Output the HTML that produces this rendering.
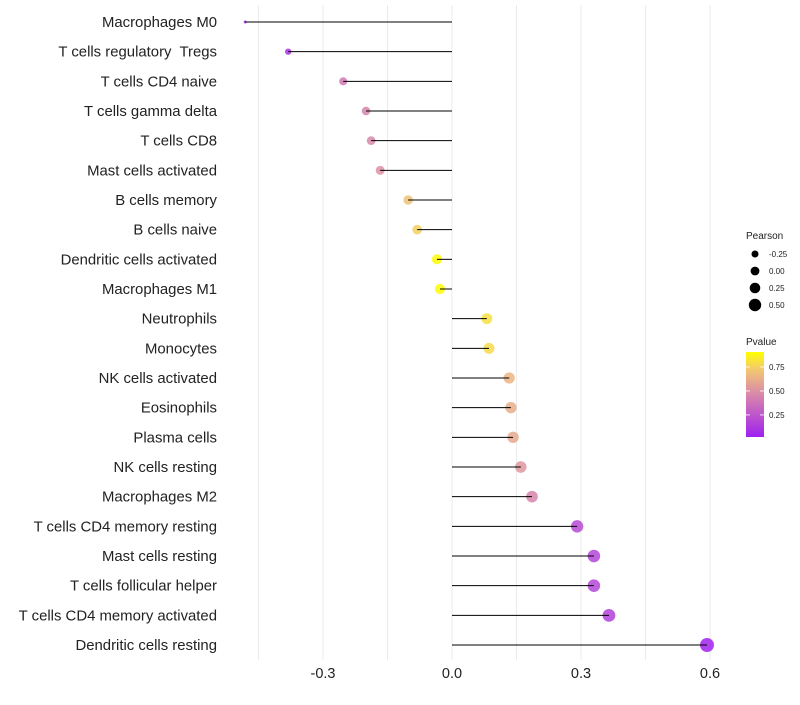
<!DOCTYPE html>
<html><head><meta charset="utf-8"><style>
body{margin:0;background:#fff;font-family:"Liberation Sans",sans-serif;}
text{white-space:pre;}
</style></head><body>
<svg id="chart" width="800" height="700" xmlns="http://www.w3.org/2000/svg"></svg>
<script>
const categories=["Macrophages M0","T cells regulatory  Tregs","T cells CD4 naive","T cells gamma delta","T cells CD8","Mast cells activated","B cells memory","B cells naive","Dendritic cells activated","Macrophages M1","Neutrophils","Monocytes","NK cells activated","Eosinophils","Plasma cells","NK cells resting","Macrophages M2","T cells CD4 memory resting","Mast cells resting","T cells follicular helper","T cells CD4 memory activated","Dendritic cells resting"];
const pearson=[-0.481,-0.381,-0.253,-0.200,-0.188,-0.167,-0.102,-0.081,-0.035,-0.028,0.081,0.086,0.133,0.137,0.142,0.160,0.186,0.291,0.330,0.330,0.365,0.593];
const pvalue=[0.05,0.10,0.40,0.45,0.46,0.50,0.70,0.75,0.90,0.90,0.80,0.78,0.65,0.62,0.60,0.52,0.45,0.20,0.18,0.18,0.15,0.03];
const xTicks=[-0.3,0,0.3,0.6];
const xTickLabels=["-0.3","0.0","0.3","0.6"];
const sizeLegend=[-0.25,0,0.25,0.5];
const colorLegend=[0.25,0.5,0.75];

const NS="http://www.w3.org/2000/svg";
const svg=document.getElementById('chart');
function mk(t,a,p){const e=document.createElementNS(NS,t);for(const k in a)e.setAttribute(k,a[k]);(p||svg).appendChild(e);return e;}
const x=v=>452+v*430;
const y=i=>22+i*(623/(categories.length-1));
const pmin=0.02,pmax=0.906;
const stops=[[0,[160,32,240]],[0.5,[216,136,170]],[0.78,[242,196,120]],[1,[255,255,0]]];
function col(p){let t=Math.max(0,Math.min(1,(p-pmin)/(pmax-pmin)));for(let i=1;i<stops.length;i++){if(t<=stops[i][0]){const a=stops[i-1],b=stops[i];const f=(t-a[0])/(b[0]-a[0]);const c=a[1].map((v,j)=>Math.round(v+(b[1][j]-v)*f));return `rgb(${c})`;}}return 'rgb(255,255,0)';}
const vmin=Math.min(...pearson),vmax=Math.max(...pearson);
function rad(v){const t=Math.max(0,(v-vmin)/(vmax-vmin));return 1.5+5.5*Math.sqrt(t);}

for(let g=-0.45;g<=0.61;g+=0.15){const l=mk('line',{x1:x(g),x2:x(g),y1:5,y2:660,stroke:'#ebebeb','stroke-width':1});

}
xTicks.forEach((t,i)=>{const e=mk('text',{x:x(t),y:678,'text-anchor':'middle','font-size':14.5,fill:'#222'});e.textContent=xTickLabels[i];

});
categories.forEach((c,i)=>{
const lab=mk('text',{x:217,y:y(i)+5,'text-anchor':'end','font-size':14.9,fill:'#222'});lab.textContent=c;


const d=mk('circle',{cx:x(pearson[i]),cy:y(i),r:rad(pearson[i]),fill:col(pvalue[i]),'fill-opacity':0.85});


const l=mk('line',{x1:x(0),x2:x(pearson[i]),y1:y(i),y2:y(i),stroke:'#000','stroke-width':1});


});
const st=mk('text',{x:746,y:239,'font-size':10,fill:'#222'});st.textContent='Pearson';


sizeLegend.forEach((v,i)=>{const cy=254+i*17;
const c=mk('circle',{cx:755,cy:cy,r:3.5+i*0.9,fill:'#000'});


const t=mk('text',{x:769,y:cy+3,'font-size':8,fill:'#222'});t.textContent=v.toFixed(2);

});
const ct=mk('text',{x:746,y:345,'font-size':10,fill:'#222'});ct.textContent='Pvalue';


const defs=mk('defs',{});const lg=mk('linearGradient',{id:'pg',x1:0,y1:1,x2:0,y2:0},defs);
for(let k=0;k<=10;k++){mk('stop',{offset:k/10,'stop-color':col(pmin+(pmax-pmin)*k/10)},lg);}
const cb=mk('rect',{x:746,y:352,width:18,height:85,fill:'url(#pg)'});


const cy0=437,cyPer=85/(pmax-pmin);
colorLegend.forEach(v=>{const yy=cy0-(v-pmin)*cyPer;
mk('line',{x1:746,x2:750,y1:yy,y2:yy,stroke:'#fff','stroke-width':0.8});mk('line',{x1:760,x2:764,y1:yy,y2:yy,stroke:'#fff','stroke-width':0.8});
const t=mk('text',{x:769,y:yy+3,'font-size':8,fill:'#222'});t.textContent=v.toFixed(2);

});
</script>
</body></html>
